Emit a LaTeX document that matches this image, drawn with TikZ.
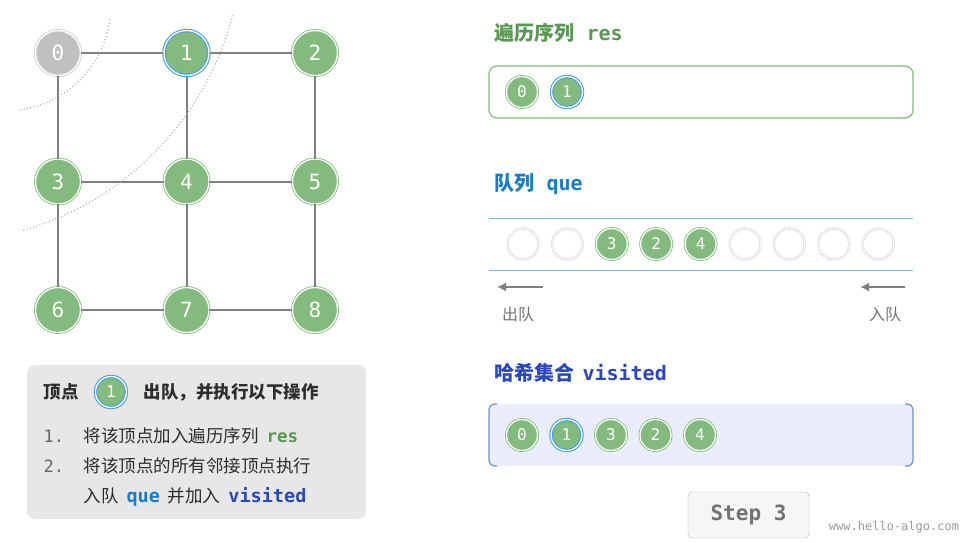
\documentclass[tikz,border=0pt]{standalone}
\usepackage{fontspec}
\setmainfont{Noto Sans CJK SC}
\setmonofont{DejaVu Sans Mono}
\usetikzlibrary{arrows.meta,positioning,calc}
\definecolor{nodeGreen}{RGB}{131,186,125}
\definecolor{doneGray}{RGB}{192,192,192}
\definecolor{ringBlue}{RGB}{74,160,225}
\definecolor{edgeGray}{RGB}{128,128,128}
\definecolor{resGreen}{RGB}{88,152,82}
\definecolor{queBlue}{RGB}{24,124,200}
\definecolor{visBlue}{RGB}{42,72,188}
\definecolor{visFill}{RGB}{233,238,250}
\definecolor{visEdge}{RGB}{110,140,215}
\definecolor{queLine}{RGB}{125,185,230}
\definecolor{boxGray}{RGB}{231,231,231}
\definecolor{inkDark}{RGB}{45,45,45}
\definecolor{slotGray}{RGB}{200,200,200}

\tikzset{
  vtx/.style={circle, minimum size=45pt, inner sep=0pt, fill=nodeGreen, draw=nodeGreen,
    double=white, double distance=1.3pt, line width=0.8pt, text=white,
    font=\ttfamily\fontsize{21}{21}\selectfont},
  done/.style={fill=doneGray, draw=doneGray!80},
  cur/.style={draw=ringBlue, line width=1.1pt},
  small/.style={minimum size=31pt, font=\ttfamily\fontsize{16}{16}\selectfont},
  slot/.style={circle, minimum size=31pt, inner sep=0pt, draw=slotGray,
    dash pattern=on 1pt off 0.6pt, double=white, double distance=1.3pt, line width=0.5pt},
  link/.style={edgeGray, line width=2pt},
  layer/.style={edgeGray!65, line width=1.5pt, line cap=round, dash pattern=on 0pt off 3.4pt},
  hdr/.style={anchor=west, font=\bfseries\fontsize{20}{22}\selectfont},
  item/.style={anchor=west, text=inkDark, font=\fontsize{17.5}{20}\selectfont},
  flow/.style={edgeGray, line width=2.2pt, -{Latex[length=9pt,width=9pt]}},
}

\begin{document}
\begin{tikzpicture}[x=1pt, y=-1pt]
\useasboundingbox (0,0) rectangle (977,542);

% graph
\foreach \v/\s in {0/done,1/cur,2/,3/,4/,5/,6/,7/,8/}
  \node[vtx,\s] (v\v) at ({58+128.5*mod(\v,3)},{53+128.5*floor(\v/3)}) {\v};
\foreach \a/\b in {0/1,1/2,3/4,4/5,6/7,7/8,0/3,3/6,1/4,4/7,2/5,5/8}
  \draw[link] (v\a) -- (v\b);
\draw[layer] (5,5) ++(81.5:106) arc[start angle=81.5, end angle=6.6, radius=106];
\draw[layer] (-60,-60) ++(73.9:302) arc[start angle=73.9, end angle=14.2, radius=302];

% step box
\fill[boxGray, rounded corners=8pt] (27,365) rectangle (366,519);
\node[item, font=\bfseries\fontsize{17.5}{20}\selectfont] (h1) at (40,392) {顶点};
\node[vtx, cur, small] (hv) at (111,392) {1};
\node[item, font=\bfseries\fontsize{17.5}{20}\selectfont] (h2) at (140,392) {出队，并执行以下操作};
\node[item, text=edgeGray!80!black, font=\ttfamily\fontsize{17}{20}\selectfont] (n1) at (40,436) {1.};
\node[item] (l1) at (80,436) {将该顶点加入遍历序列\hspace{8pt}{\ttfamily\bfseries\color{resGreen}res}};
\node[item, text=edgeGray!80!black, font=\ttfamily\fontsize{17}{20}\selectfont] (n2) at (40,466) {2.};
\node[item] (l2) at (80,466) {将该顶点的所有邻接顶点执行};
\node[item] (l3) at (80,497) {入队\hspace{8pt}{\ttfamily\bfseries\fontsize{18.5}{20}\selectfont\color{queBlue}que}\hspace{8pt}并加入\hspace{8pt}{\ttfamily\bfseries\fontsize{18.5}{20}\selectfont\color{visBlue}visited}};

% res
\node[hdr, text=resGreen] (tres) at (491,33) {遍历序列\hspace{12pt}{\ttfamily res}};
\draw[nodeGreen, line width=1.2pt, rounded corners=8pt] (489,66) rectangle (913,118);
\node[vtx, small] (r0) at (522,92) {0};
\node[vtx, small, cur] (r1) at (567,92) {1};

% queue
\node[hdr, text=queBlue] (tque) at (491,184) {队列\hspace{12pt}{\ttfamily que}};
\draw[queLine, line width=1pt] (489,218) -- (913,218);
\draw[queLine, line width=1pt] (489,270) -- (913,270);
\foreach \i in {0,1,5,6,7,8}
  \node[slot] (q\i) at ({523+44.4*\i},244) {};
\foreach \i/\v in {2/3,3/2,4/4}
  \node[vtx, small] (q\i) at ({523+44.4*\i},244) {\v};
\coordinate (outA) at (543,287);
\coordinate (outB) at (497,287);
\coordinate (inA) at (905,287);
\coordinate (inB) at (860,287);
\draw[flow] (outA) -- (outB);
\draw[flow] (inA) -- (inB);
\node[text=edgeGray!90!black, font=\fontsize{16}{18}\selectfont] (deq) at (518,314) {出队};
\node[text=edgeGray!90!black, font=\fontsize{16}{18}\selectfont] (enq) at (885,314) {入队};

% visited
\node[hdr, text=visBlue] (tvis) at (491,373) {哈希集合\hspace{8pt}{\ttfamily visited}};
\fill[visFill, rounded corners=6pt] (489,404) rectangle (913,466);
\draw[visEdge, line width=1.2pt, rounded corners=6pt] (497,404) -| (489,466) -- (497,466);
\draw[visEdge, line width=1.2pt, rounded corners=6pt] (905,404) -| (913,466) -- (905,466);
\foreach \i/\v/\s in {0/0/,1/1/cur,2/3/,3/2/,4/4/}
  \node[vtx, small, \s] (s\i) at ({522+44.5*\i},435) {\v};

\node[draw=edgeGray!60, fill=gray!7, rounded corners=4pt, minimum width=121pt, minimum height=46pt,
  text=edgeGray!90!black, font=\ttfamily\bfseries\fontsize{21}{22}\selectfont] (step) at (748.5,515) {Step 3};
\node[text=edgeGray!80, font=\ttfamily\fontsize{12}{14}\selectfont] (url) at (894,527) {www.hello-algo.com};
\end{tikzpicture}
\end{document}
